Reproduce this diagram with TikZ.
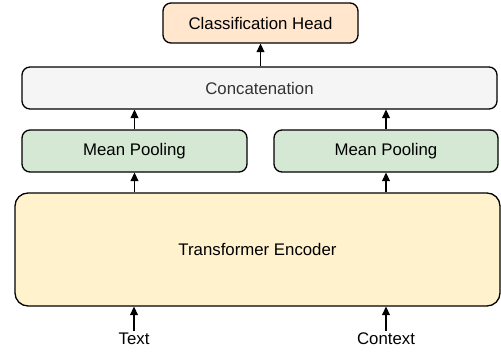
\documentclass[tikz,border=0pt]{standalone}
\usepackage{fontspec}
\setmainfont{Liberation Sans}
\usetikzlibrary{arrows.meta}

\definecolor{headfill}{HTML}{FFE6CC}
\definecolor{concatfill}{HTML}{F5F5F5}
\definecolor{concattext}{HTML}{333333}
\definecolor{poolfill}{HTML}{D5E8D4}
\definecolor{encfill}{HTML}{FFF2CC}

\tikzset{
  block/.style={draw=black, line width=1.3pt, rounded corners=8pt, inner sep=0pt,
    font=\fontsize{16.8}{20}\selectfont},
  link/.style={-{Triangle[width=8pt,length=8.5pt]}, line width=1.3pt},
  inlabel/.style={font=\fontsize{16.8}{20}\selectfont, inner sep=2pt}
}

\begin{document}
\begin{tikzpicture}[x=1pt,y=-1pt]
        % Fix the page size
        \useasboundingbox (0,0) rectangle (501,351);

        % Draw the blocks
        \node[block, fill=headfill, minimum width=195, minimum height=40] (head) at (260.5,23) {Classification Head};
        \node[block, fill=concatfill, text=concattext, minimum width=475, minimum height=42] (concat) at (259.5,88) {Concatenation};
        \node[block, fill=poolfill, minimum width=225, minimum height=42] (poolL) at (134.5,151) {Mean Pooling};
        \node[block, fill=poolfill, minimum width=224, minimum height=42] (poolR) at (386,151) {Mean Pooling};
        \node[block, fill=encfill, rounded corners=13pt, minimum width=485, minimum height=113] (enc) at (257.5,249.5) {Transformer Encoder};

        % Draw the inputs
        \node[inlabel] (txt) at (134,339) {Text};
        \node[inlabel] (ctx) at (386,339) {Context};

        % Draw the arrows
        \draw[link] (txt.north) -- (txt.north |- enc.south);
        \draw[link] (ctx.north) -- (ctx.north |- enc.south);
        \draw[link] (enc.north -| poolL) -- (poolL.south);
        \draw[link] (enc.north -| poolR) -- (poolR.south);
        \draw[link] (poolL.north) -- (poolL.north |- concat.south);
        \draw[link] (poolR.north) -- (poolR.north |- concat.south);
        \draw[link] (concat.north -| head) -- (head.south);

\end{tikzpicture}
\end{document}
